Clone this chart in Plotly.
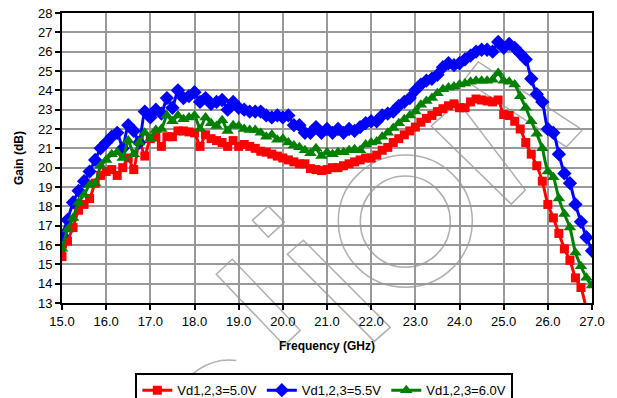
import plotly.graph_objects as go

freq = [15.000, 15.125, 15.250, 15.375, 15.500, 15.625, 15.750, 15.875,
        16.000, 16.125, 16.250, 16.375, 16.500, 16.625, 16.750, 16.875,
        17.000, 17.125, 17.250, 17.375, 17.500, 17.625, 17.750, 17.875,
        18.000, 18.125, 18.250, 18.375, 18.500, 18.625, 18.750, 18.875,
        19.000, 19.125, 19.250, 19.375, 19.500, 19.625, 19.750, 19.875,
        20.000, 20.125, 20.250, 20.375, 20.500, 20.625, 20.750, 20.875,
        21.000, 21.125, 21.250, 21.375, 21.500, 21.625, 21.750, 21.875,
        22.000, 22.125, 22.250, 22.375, 22.500, 22.625, 22.750, 22.875,
        23.000, 23.125, 23.250, 23.375, 23.500, 23.625, 23.750, 23.875,
        24.000, 24.125, 24.250, 24.375, 24.500, 24.625, 24.750, 24.875,
        25.000, 25.125, 25.250, 25.375, 25.500, 25.625, 25.750, 25.875,
        26.000, 26.125, 26.250, 26.375, 26.500, 26.625, 26.750, 26.875,
        27.000]

gain_5v0 = [15.4, 16.2, 16.9, 17.8, 18.1, 18.4, 19.2, 19.6,
            19.8, 19.9, 19.6, 20.0, 20.5, 19.9, 21.4, 20.6,
            21.5, 21.6, 21.1, 21.6, 21.6, 21.9, 21.9, 21.85,
            21.8, 21.1, 21.7, 21.5, 21.4, 21.3, 21.1, 21.4,
            21.1, 21.2, 21.1, 21.0, 20.85, 20.8, 20.7, 20.6,
            20.5, 20.4, 20.3, 20.2, 20.2, 19.95, 19.9, 19.85,
            19.9, 20.0, 20.0, 20.1, 20.2, 20.3, 20.4, 20.5,
            20.5, 20.65, 20.9, 21.05, 21.3, 21.5, 21.7, 21.9,
            22.1, 22.35, 22.55, 22.7, 22.9, 23.05, 23.2, 23.3,
            23.1, 23.1, 23.4, 23.55, 23.5, 23.45, 23.4, 23.5,
            22.75, 22.7, 22.4, 22.0, 21.3, 20.7, 20.1, 19.3,
            18.1, 17.4, 16.6, 15.8, 15.2, 14.3, 13.8, 12.7,
            11.8]

gain_5v5 = [16.5, 17.3, 18.2, 18.8, 19.3, 19.8, 20.4, 21.0,
            21.3, 21.6, 21.8, 21.0, 22.2, 21.9, 21.3, 22.9,
            22.6, 23.0, 22.8, 23.6, 23.1, 24.0, 23.6, 23.7,
            23.9, 23.4, 23.6, 23.3, 23.4, 23.5, 23.0, 23.4,
            23.1, 23.0, 22.9, 22.9, 22.9, 22.7, 22.6, 22.7,
            22.6, 22.7, 22.2, 22.2, 21.8, 21.8, 22.1, 21.8,
            22.0, 21.8, 22.0, 21.8, 22.0, 21.9, 22.1, 22.3,
            22.4, 22.4, 22.7, 22.8, 22.9, 23.2, 23.4, 23.6,
            24.0, 24.3, 24.5, 24.6, 24.8, 25.2, 25.4, 25.3,
            25.4, 25.6, 25.8, 26.0, 26.1, 26.1, 26.0, 26.5,
            26.2, 26.4, 26.2, 25.9, 25.6, 24.6, 23.8, 23.4,
            22.0, 21.8, 20.7, 19.7, 19.2, 18.1, 17.2, 16.4,
            15.7]

gain_6v0 = [15.8, 16.8, 17.4, 18.2, 18.6, 19.1, 19.2, 20.1,
            20.4, 20.7, 20.8, 20.5, 21.4, 20.7, 21.3, 21.8,
            21.5, 21.95, 22.0, 22.7, 22.4, 22.7, 22.5, 22.6,
            22.7, 22.0, 22.6, 22.3, 22.15, 22.45, 21.9, 22.2,
            22.15, 22.0, 21.95, 21.95, 21.8, 21.6, 21.7, 21.45,
            21.5, 21.3, 21.15, 21.05, 20.9, 20.75, 21.0, 20.6,
            20.8, 20.7, 20.8, 20.8, 20.9, 20.95, 20.9, 21.2,
            21.3, 21.35, 21.6, 21.8, 22.05, 22.3, 22.5, 22.7,
            22.9, 23.25, 23.45, 23.6, 23.85, 24.05, 24.15, 24.2,
            24.3, 24.35, 24.45, 24.5, 24.5, 24.5, 24.55, 24.9,
            24.5, 24.45, 24.3, 23.7, 23.1, 22.4, 21.75, 21.0,
            19.8, 19.5, 18.4, 17.6, 16.9, 15.6, 14.9, 14.3,
            13.9]

series_names = ["Vd1,2,3=5.0V", "Vd1,2,3=5.5V", "Vd1,2,3=6.0V"]
x_ticks = [15.0, 16.0, 17.0, 18.0, 19.0, 20.0, 21.0, 22.0, 23.0, 24.0, 25.0, 26.0, 27.0]
y_ticks = list(range(13, 29))

styles = [
    ("#FF0000", "square", 9),
    ("#0000FF", "diamond", 11),
    ("#008000", "triangle-up", 11),
]

fig = go.Figure()
for name, ys, (col, sym, sz) in zip(series_names, [gain_5v0, gain_5v5, gain_6v0], styles):
    fig.add_trace(go.Scatter(
        x=freq, y=ys, mode="lines+markers", name=name,
        line=dict(color=col, width=3, shape="spline", smoothing=0.6),
        marker=dict(symbol=sym, size=sz, color=col, line=dict(width=0)),
    ))

# --- faint outlined watermark (pixel coordinates of the 617x398 canvas) ---
L, R, T, B = 61.7, 591.7, 13.3, 302.7
def px(x):
    return (x - L) / (R - L)
def py(y):
    return (B - y) / (B - T)
def path(pts, close=True):
    s = "M " + " L ".join(f"{px(x):.4f},{py(y):.4f}" for x, y in pts)
    return s + (" Z" if close else "")

wm = dict(color="#B0B0B0", width=1.5)
shapes = []
# small diamond
shapes.append(dict(type="path", path=path([(252, 220), (268, 206), (284, 222), (268, 237)])))
# long slanted bar
shapes.append(dict(type="path", path=path([(287, 254), (303, 240), (390, 327), (374, 341)])))
# "t"-like bar
shapes.append(dict(type="path", path=path([(216, 274), (232, 259), (300, 330), (284, 345)])))
# rings
shapes.append(dict(type="circle", x0=px(338), x1=px(472), y0=py(155), y1=py(287)))
shapes.append(dict(type="circle", x0=px(360), x1=px(450), y0=py(176), y1=py(267)))
# arched bands upper right
shapes.append(dict(type="path", path=path([(431, 126), (458, 102), (525, 190), (511, 204)])))
shapes.append(dict(type="path", path=path([(478, 62), (582, 130), (566, 147), (464, 80)])))
# "c" arcs bottom left
shapes.append(dict(type="path", path=f"M {px(170):.4f},{py(398):.4f} Q {px(200):.4f},{py(355):.4f} {px(236):.4f},{py(360):.4f}"))
shapes.append(dict(type="path", path=f"M {px(186):.4f},{py(398):.4f} Q {px(210):.4f},{py(372):.4f} {px(232):.4f},{py(378):.4f}"))
for s in shapes:
    s.update(xref="paper", yref="paper", line=wm, layer="below", fillcolor="rgba(0,0,0,0)")

FONT = "Liberation Sans, Arial, sans-serif"
fig.update_layout(
    width=617, height=398,
    margin=dict(l=62, r=25, t=13, b=95, autoexpand=False),
    paper_bgcolor="white", plot_bgcolor="rgba(0,0,0,0)",
    font=dict(family=FONT, size=13, color="black"),
    showlegend=True,
    shapes=shapes,
    legend=dict(
        orientation="h", x=0.495, xanchor="center", y=-0.242, yanchor="top",
        bordercolor="black", borderwidth=2, font=dict(size=13, family=FONT),
        bgcolor="white", itemwidth=30, tracegroupgap=0,
    ),
    xaxis=dict(
        range=[15, 27], tickvals=x_ticks, ticktext=[f"{v:.1f}" for v in x_ticks],
        showgrid=True, gridcolor="#999999", gridwidth=1.5,
        showline=True, linecolor="black", linewidth=2, mirror=True,
        ticks="outside", ticklen=5, tickwidth=2, tickcolor="black",
        zeroline=False, tickfont=dict(size=13),
        title=dict(text="<b>Frequency (GHz)</b>", font=dict(size=12), standoff=14),
    ),
    yaxis=dict(
        range=[13, 28], tickvals=y_ticks,
        showgrid=True, gridcolor="#999999", gridwidth=1.5,
        showline=True, linecolor="black", linewidth=2, mirror=True,
        ticks="outside", ticklen=5, tickwidth=2, tickcolor="black",
        zeroline=False, tickfont=dict(size=13),
        title=dict(text="<b>Gain (dB)</b>", font=dict(size=12), standoff=12),
    ),
)

fig.write_html("out.html")
